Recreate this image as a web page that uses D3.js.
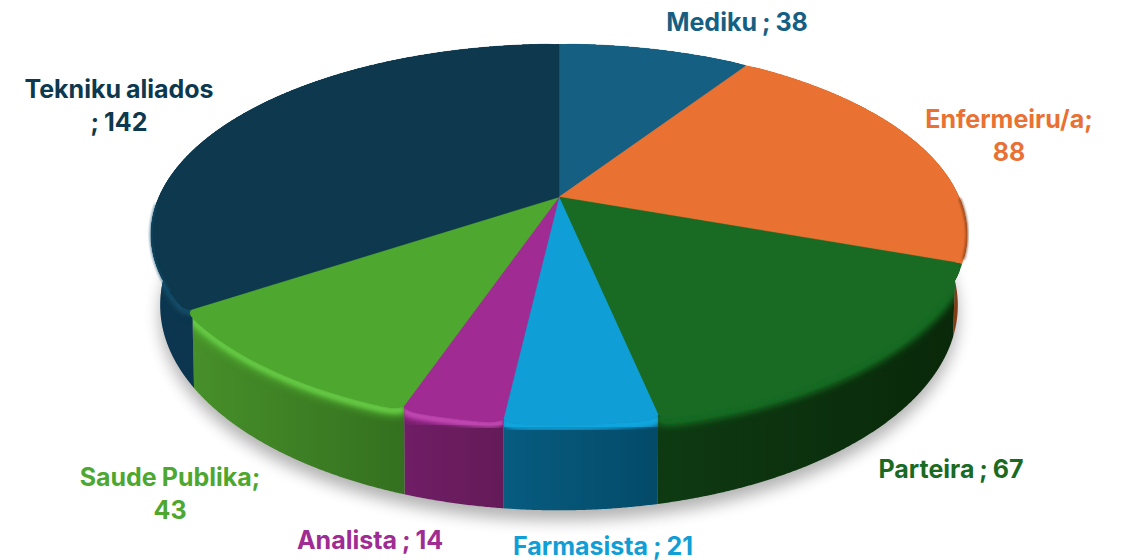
<!DOCTYPE html>
<html><head><meta charset="utf-8">
<script src="https://cdn.jsdelivr.net/npm/d3@7"></script>
<style>html,body{margin:0;background:#fff}svg{display:block}text{font-family:Inter,"Open Sans",sans-serif;font-weight:700;font-size:25px;word-spacing:-1px;text-anchor:middle}</style>
</head><body><svg id="c" width="1122" height="560"></svg>
<script>
const categories=["Mediku","Enfermeiru/a","Parteira","Farmasista","Analista","Saude Publika","Tekniku aliados"];
const values=[38,88,67,21,14,43,142];
const faceColors=["#156082","#e97132","#196b24","#0f9ed5","#a02b93","#4ea72e","#0d384d"];
const wallLeft=["#0f4a64","#a04f22","#0e3a12","#075c80","#701e66","#47902a","#0c3650"];
const wallRight=["#0f4a64","#7e3c18","#092809","#044a69","#641a58","#34701f","#0a2c40"];
const rimColors=["#156082","#e97132","#196b24","#14a8e2","#c84fba","#6bd04a","#134f6d"];
const labelColors=["#156082","#e97132","#196b24","#0f9ed5","#a02b93","#4ea72e","#0d384d"];
const labelLines=[["Mediku ; 38"],["Enfermeiru/a;","88"],["Parteira ; 67"],["Farmasista ; 21"],["Analista ; 14"],["Saude Publika;","43"],["Tekniku aliados","; 142"]];
const labelAnchors=[[737,31],[1009,128],[951,478],[603,555],[370,549],[170,486],[119,98]];

const svg=d3.select("#c"), defs=svg.append("defs");
const k=0.197, cx=559, notch=0.016;
const topFace={A:400,B:183,y0:197}, bottom={A:391,B:197,y0:265};
const project=(p,a,r=1)=>{const u=r*Math.sin(a),v=-r*Math.cos(a),d=1-k*v;return [cx+p.A*u/d,p.y0+p.B*v/d];};
const arcPts=(p,a0,a1,nt=0)=>{
  const n=Math.max(2,Math.ceil((a1-a0)/0.004));
  return d3.range(n+1).map(i=>{
    const a=a0+(a1-a0)*i/n, da=Math.min(a-a0,a1-a);
    return project(p,a,1-nt*Math.exp(-da/0.011));
  });
};
const line=d3.line();
const slices=d3.pie().sort(null)(values);

[["blur1",1],["blur2",2],["blur3",3.5],["blurS",8]].forEach(([id,s])=>defs.append("filter").attr("id",id)
  .attr("x","-20%").attr("y","-20%").attr("width","140%").attr("height","140%")
  .append("feGaussianBlur").attr("stdDeviation",s));

// ground shadow
svg.append("path").attr("d",line(arcPts(bottom,0,2*Math.PI))+"Z")
  .attr("transform","translate(0,10)").attr("fill","#000").attr("opacity",.3).attr("filter","url(#blurS)");

// full sectors underneath so the small gaps between rounded corners stay filled
slices.forEach((s,i)=>{
  const t=arcPts(topFace,s.startAngle,s.endAngle);
  svg.append("path").attr("d",line([[cx,topFace.y0]].concat(t))+"Z").attr("fill",faceColors[i]);
});

// walls with soft rounded rim
slices.forEach((s,i)=>{
  const t=arcPts(topFace,s.startAngle,s.endAngle,notch), b=arcPts(bottom,s.startAngle,s.endAngle);
  const wall=t.concat(b.slice().reverse());
  const g=defs.append("linearGradient").attr("id","w"+i);
  g.append("stop").attr("offset",0).attr("stop-color",wallLeft[i]);
  g.append("stop").attr("offset",1).attr("stop-color",wallRight[i]);
  defs.append("clipPath").attr("id","cp"+i).append("path").attr("d",line(wall)+"Z");
  const group=svg.append("g");
  group.append("path").attr("d",line(wall)+"Z").attr("fill",`url(#w${i})`);
  const rim=group.append("g").attr("clip-path",`url(#cp${i})`);
  rim.append("path").attr("d",line(t)).attr("fill","none").attr("stroke",faceColors[i]).attr("stroke-width",18).attr("filter","url(#blur3)");
  rim.append("path").attr("d",line(t)).attr("transform","translate(0,3)").attr("fill","none").attr("stroke",rimColors[i]).attr("stroke-width",5).attr("filter","url(#blur2)");
});

// faces with softened outer corners
slices.forEach((s,i)=>{
  const t=arcPts(topFace,s.startAngle,s.endAngle,notch);
  svg.append("path").attr("d",line([[cx,topFace.y0]].concat(t))+"Z").attr("fill",faceColors[i]).attr("stroke",faceColors[i]).attr("stroke-width",.5);
});
// edge tints at the far right and far left of the rim
const orange=slices[1], navy=slices[6];
svg.append("path").attr("d",line(arcPts(topFace,orange.startAngle+1.0,orange.endAngle-0.02))).attr("fill","none")
  .attr("stroke","#7e3c18").attr("stroke-width",2.5).attr("filter","url(#blur1)").attr("opacity",.8);
svg.append("path").attr("d",line(arcPts(topFace,navy.startAngle+0.1,navy.startAngle+0.55))).attr("fill","none")
  .attr("stroke",rimColors[6]).attr("stroke-width",3).attr("filter","url(#blur1)").attr("opacity",.55);

categories.forEach((c,i)=>{
  labelLines[i].forEach((l,j)=>svg.append("text").attr("x",labelAnchors[i][0]).attr("y",labelAnchors[i][1]+j*32.5)
    .attr("fill",labelColors[i]).text(l));
});
</script></body></html>
